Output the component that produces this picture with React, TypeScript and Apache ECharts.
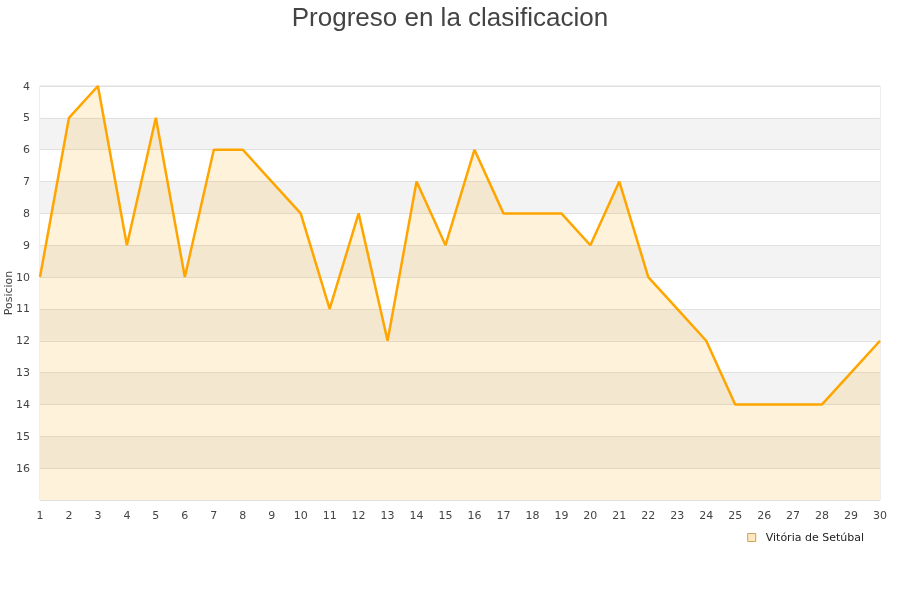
import { useEffect, useRef } from 'react';
import * as echarts from 'echarts';

const rounds = Array.from({ length: 30 }, (_, i) => String(i + 1));
const positions = [10, 5, 4, 9, 5, 10, 6, 6, 7, 8, 11, 8, 12, 7, 9, 6, 8, 8, 8, 9, 7, 10, 11, 12, 14, 14, 14, 14, 13, 12];
const teamName = 'Vitória de Setúbal';
const chartTitle = 'Progreso en la clasificacion';
const yAxisName = 'Posicion';

export default function App() {
  const chartRef = useRef<HTMLDivElement>(null);

  useEffect(() => {
    if (!chartRef.current) return;
    const chart = echarts.init(chartRef.current, undefined, { renderer: 'svg' });

    const option: echarts.EChartsOption = {
      animation: false,
      title: {
        text: chartTitle,
        left: 'center',
        top: -1,
        textStyle: {
          fontFamily: 'Liberation Sans',
          fontSize: 26,
          fontWeight: 'normal',
          color: '#444',
        },
      },
      legend: {
        data: [teamName],
        right: 31,
        top: 527,
        icon: 'rect',
        itemWidth: 8,
        itemHeight: 8,
        itemStyle: { color: '#ffe8c0', borderColor: '#c8a060', borderWidth: 1 },
        textStyle: {
          fontFamily: 'DejaVu Sans',
          fontSize: 11,
          color: '#222',
          padding: [0, 0, 0, 5],
        },
      },
      grid: {
        left: 40,
        right: 20,
        top: 86,
        bottom: 100,
        outerBoundsMode: 'none',
        show: true,
        borderColor: '#ddd',
        borderWidth: 1,
        backgroundColor: 'transparent',
      } as any,
      xAxis: {
        type: 'category',
        data: rounds,
        boundaryGap: false,
        axisLine: { show: false },
        axisTick: { show: false },
        axisLabel: {
          fontFamily: 'DejaVu Sans',
          fontSize: 11,
          color: '#444',
          margin: 10,
          interval: 0,
        },
        splitLine: { show: false },
      },
      yAxis: {
        type: 'value',
        inverse: true,
        min: 4,
        max: 17,
        interval: 1,
        name: yAxisName,
        nameLocation: 'middle',
        nameGap: 26,
        nameMoveOverlap: false,
        nameTextStyle: { fontFamily: 'DejaVu Sans', fontSize: 11, color: '#444' },
        axisLine: { show: false },
        axisTick: { show: false },
        axisLabel: {
          fontFamily: 'DejaVu Sans',
          fontSize: 11,
          color: '#444',
          margin: 10,
          formatter: (v: number) => (v === 17 ? '' : String(v)),
        },
        splitLine: { show: true, lineStyle: { color: '#e0e0e0', width: 1 } },
        splitArea: {
          show: true,
          areaStyle: { color: ['#ffffff', '#f3f3f3'] },
        },
      } as any,
      series: [
        {
          name: teamName,
          type: 'line',
          data: positions,
          symbol: 'none',
          lineStyle: { color: '#ffa500', width: 2.5 },
          itemStyle: { color: '#ffe8c0', borderColor: '#c8a060', borderWidth: 1 },
          areaStyle: { color: 'rgba(255,165,0,0.2)', origin: 'end' },
        },
      ],
    };

    chart.setOption(option);
    return () => chart.dispose();
  }, []);

  return (
    <div
      ref={chartRef}
      style={{ position: 'fixed', left: 0, top: 0, width: 900, height: 600 }}
    />
  );
}
